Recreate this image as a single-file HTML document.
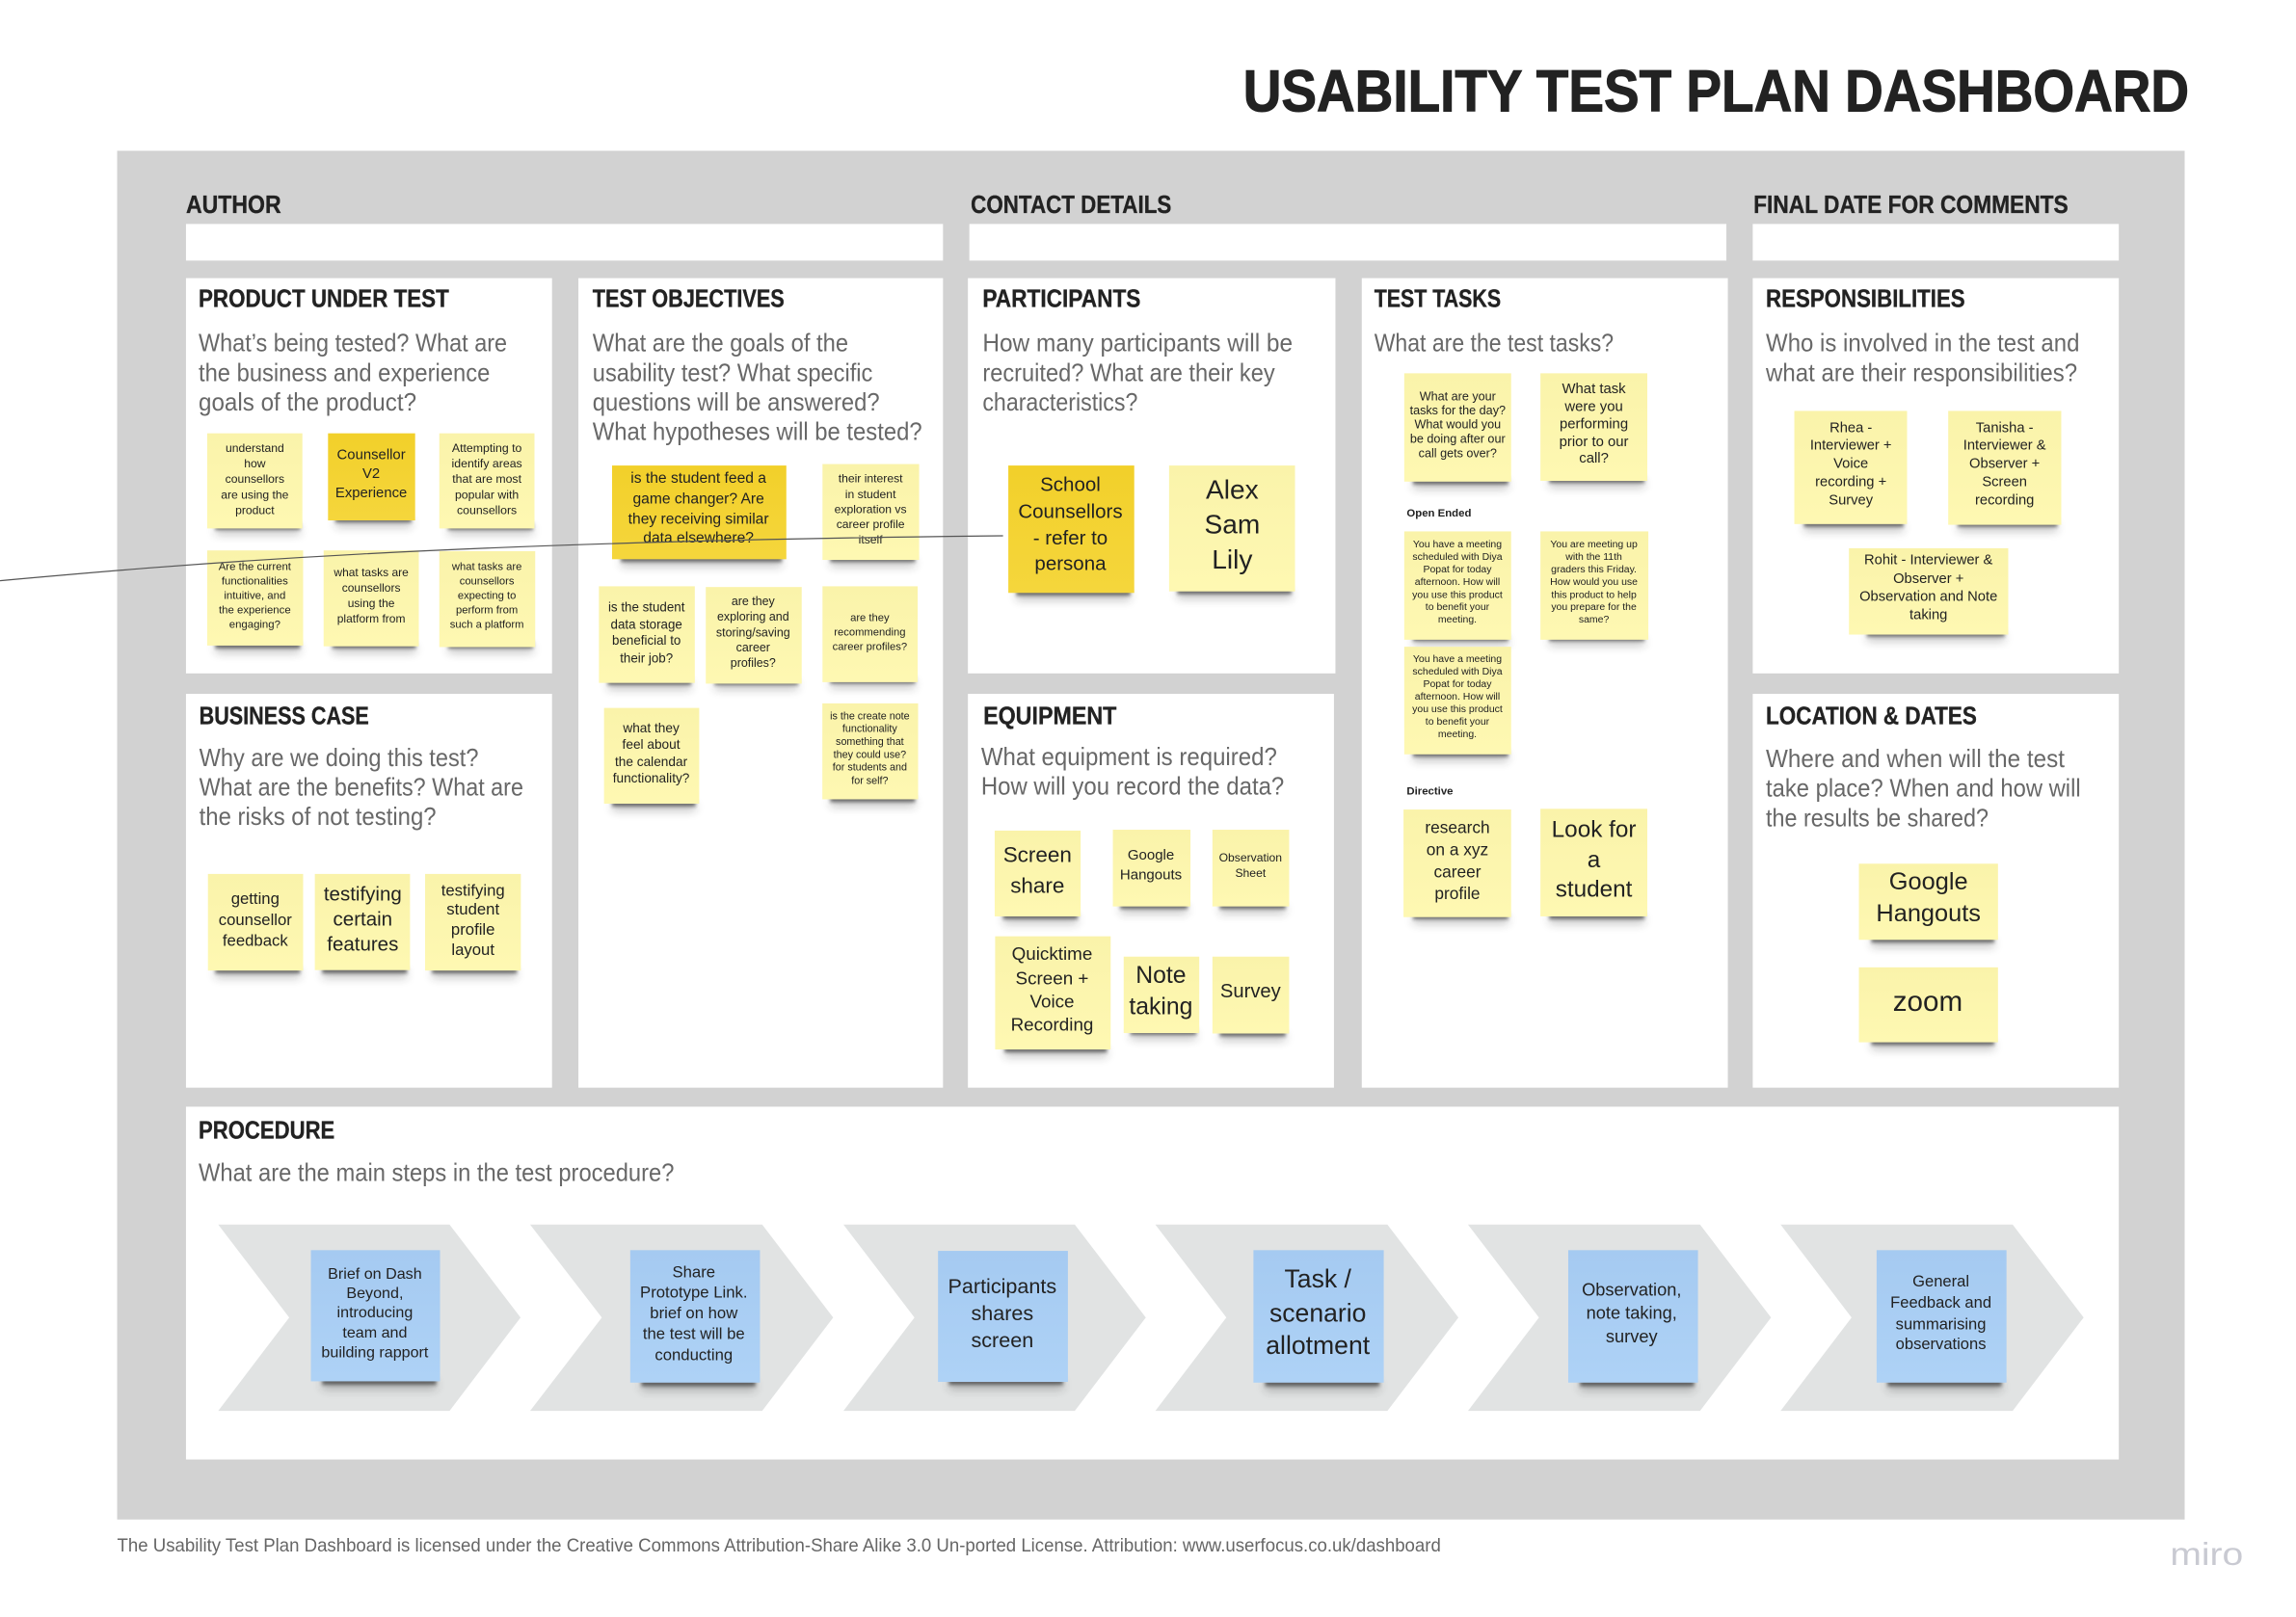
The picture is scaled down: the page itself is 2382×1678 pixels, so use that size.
<!DOCTYPE html>
<html lang="en"><head><meta charset="utf-8"><title>Usability Test Plan Dashboard</title>
<style>
html,body{margin:0;padding:0;background:#fff;width:2382px;height:1678px;overflow:hidden}
svg{display:block}
text{font-family:"Liberation Sans",sans-serif}
.h{font-weight:700;font-size:17px;fill:#222;stroke:#222;stroke-width:.22px}
.p{font-size:17px;fill:#686868}
.s text{text-anchor:middle;dominant-baseline:central;fill:#222}
.y{fill:url(#gy)}.d{fill:url(#gd)}.b{fill:url(#gb)}
</style></head><body>
<svg xmlns="http://www.w3.org/2000/svg" width="2382" height="1678" viewBox="0 0 1568 1104.6">
<defs>
<linearGradient id="gy" x1="0" y1="0" x2="0" y2="1"><stop offset="0" stop-color="#faf3aa"/><stop offset="1" stop-color="#fef8b2"/></linearGradient>
<linearGradient id="gd" x1="0" y1="0" x2="0" y2="1"><stop offset="0" stop-color="#f2d02a"/><stop offset="1" stop-color="#f5d63c"/></linearGradient>
<linearGradient id="gb" x1="0" y1="0" x2="0" y2="1"><stop offset="0" stop-color="#a5caf1"/><stop offset="1" stop-color="#aed2f6"/></linearGradient>
<filter id="bl" x="-5%" y="-5%" width="110%" height="110%"><feGaussianBlur stdDeviation="1.3"/></filter>
<filter id="bl2" x="-5%" y="-5%" width="110%" height="110%"><feGaussianBlur stdDeviation="3.2"/></filter>
<g id="sh">
<rect x="147" y="357" width="58" height="5"/><rect x="229" y="352" width="52" height="5"/><rect x="306" y="357" width="58" height="5"/>
<rect x="147" y="438" width="58" height="5"/><rect x="227" y="438" width="57" height="5"/><rect x="306" y="438" width="58" height="5"/>
<rect x="424" y="379" width="110" height="5"/><rect x="567" y="379" width="58" height="5"/><rect x="415" y="463" width="57" height="5"/><rect x="488" y="463" width="57" height="5"/><rect x="567" y="462" width="58" height="5"/><rect x="418" y="546" width="57" height="5"/><rect x="567" y="543" width="58" height="5"/>
<rect x="147" y="660" width="58" height="5"/><rect x="220" y="660" width="58" height="5"/><rect x="295" y="660" width="58" height="5"/>
<rect x="694" y="402" width="78" height="5"/><rect x="804" y="401" width="78" height="5"/>
<rect x="965" y="326" width="65" height="5"/><rect x="1058" y="325" width="65" height="5"/><rect x="965" y="433" width="65" height="5"/><rect x="1058" y="433" width="65" height="5"/><rect x="965" y="512" width="65" height="5"/><rect x="965" y="623" width="65" height="5"/><rect x="1058" y="623" width="65" height="5"/>
<rect x="685" y="623" width="51" height="5"/><rect x="765" y="616" width="46" height="5"/><rect x="833" y="616" width="45" height="5"/><rect x="686" y="714" width="70" height="5"/><rect x="772" y="702" width="45" height="5"/><rect x="833" y="703" width="45" height="5"/>
<rect x="1232" y="355" width="68" height="5"/><rect x="1337" y="355" width="68" height="5"/><rect x="1275" y="430" width="94" height="5"/><rect x="1278" y="639" width="84" height="5"/><rect x="1278" y="709" width="84" height="5"/>
<rect x="220" y="940" width="78" height="6"/><rect x="438" y="941" width="78" height="6"/><rect x="648" y="940" width="78" height="6"/><rect x="864" y="941" width="78" height="6"/><rect x="1079" y="941" width="78" height="6"/><rect x="1289" y="941" width="78" height="6"/>
</g>
</defs>
<rect width="1568" height="1104.6" fill="#fff"/>
<text x="849" y="76" font-size="40" font-weight="700" fill="#222" stroke="#222" stroke-width=".7" textLength="646" lengthAdjust="spacingAndGlyphs">USABILITY TEST PLAN DASHBOARD</text>
<rect x="80" y="103" width="1412" height="935" fill="#d2d2d2"/>
<g fill="#fff">
<rect x="127" y="153" width="517" height="25"/><rect x="662" y="153" width="517" height="25"/><rect x="1197" y="153" width="250" height="25"/>
<rect x="127" y="190" width="250" height="270"/><rect x="395" y="190" width="249" height="553"/><rect x="661" y="190" width="251" height="270"/><rect x="930" y="190" width="250" height="553"/><rect x="1197" y="190" width="250" height="270"/>
<rect x="127" y="474" width="250" height="269"/><rect x="661" y="474" width="250" height="269"/><rect x="1197" y="474" width="250" height="269"/>
<rect x="127" y="756" width="1320" height="241"/>
</g>
<g class="h">
<text x="127" y="145.6" textLength="65" lengthAdjust="spacingAndGlyphs">AUTHOR</text>
<text x="663" y="145.6" textLength="137" lengthAdjust="spacingAndGlyphs">CONTACT DETAILS</text>
<text x="1197.5" y="145.6" textLength="215" lengthAdjust="spacingAndGlyphs">FINAL DATE FOR COMMENTS</text>
<text x="135.6" y="209.8" textLength="171" lengthAdjust="spacingAndGlyphs">PRODUCT UNDER TEST</text>
<text x="404.7" y="209.8" textLength="131" lengthAdjust="spacingAndGlyphs">TEST OBJECTIVES</text>
<text x="671" y="209.8" textLength="108" lengthAdjust="spacingAndGlyphs">PARTICIPANTS</text>
<text x="938.5" y="209.8" textLength="86.5" lengthAdjust="spacingAndGlyphs">TEST TASKS</text>
<text x="1206" y="209.8" textLength="136" lengthAdjust="spacingAndGlyphs">RESPONSIBILITIES</text>
<text x="136" y="494.8" textLength="116" lengthAdjust="spacingAndGlyphs">BUSINESS CASE</text>
<text x="671.5" y="494.8" textLength="91" lengthAdjust="spacingAndGlyphs">EQUIPMENT</text>
<text x="1206" y="494.8" textLength="144" lengthAdjust="spacingAndGlyphs">LOCATION &amp; DATES</text>
<text x="135.6" y="777.8" textLength="93" lengthAdjust="spacingAndGlyphs">PROCEDURE</text>
</g>
<g class="p">
<text x="135.6" y="240" textLength="210.7" lengthAdjust="spacingAndGlyphs">What’s being tested? What are</text>
<text x="135.6" y="260.2" textLength="199" lengthAdjust="spacingAndGlyphs">the business and experience</text>
<text x="135.6" y="280.4" textLength="148.8" lengthAdjust="spacingAndGlyphs">goals of the product?</text>
<text x="404.7" y="240" textLength="174.6" lengthAdjust="spacingAndGlyphs">What are the goals of the</text>
<text x="404.7" y="260.2" textLength="191.3" lengthAdjust="spacingAndGlyphs">usability test? What specific</text>
<text x="404.7" y="280.4" textLength="196.1" lengthAdjust="spacingAndGlyphs">questions will be answered?</text>
<text x="404.7" y="300.6" textLength="225" lengthAdjust="spacingAndGlyphs">What hypotheses will be tested?</text>
<text x="671" y="240" textLength="211.8" lengthAdjust="spacingAndGlyphs">How many participants will be</text>
<text x="671" y="260.2" textLength="199.7" lengthAdjust="spacingAndGlyphs">recruited? What are their key</text>
<text x="671" y="280.4" textLength="106" lengthAdjust="spacingAndGlyphs">characteristics?</text>
<text x="938.5" y="240" textLength="163.5" lengthAdjust="spacingAndGlyphs">What are the test tasks?</text>
<text x="1206" y="240" textLength="214.2" lengthAdjust="spacingAndGlyphs">Who is involved in the test and</text>
<text x="1206" y="260.5" textLength="212.7" lengthAdjust="spacingAndGlyphs">what are their responsibilities?</text>
<text x="136" y="523.4" textLength="190.8" lengthAdjust="spacingAndGlyphs">Why are we doing this test?</text>
<text x="136" y="543.4" textLength="221.4" lengthAdjust="spacingAndGlyphs">What are the benefits? What are</text>
<text x="136" y="563.4" textLength="161.9" lengthAdjust="spacingAndGlyphs">the risks of not testing?</text>
<text x="670" y="522.6" textLength="202.1" lengthAdjust="spacingAndGlyphs">What equipment is required?</text>
<text x="670" y="542.8" textLength="207" lengthAdjust="spacingAndGlyphs">How will you record the data?</text>
<text x="1206" y="524" textLength="204" lengthAdjust="spacingAndGlyphs">Where and when will the test</text>
<text x="1206" y="544.2" textLength="215" lengthAdjust="spacingAndGlyphs">take place? When and how will</text>
<text x="1206" y="564.4" textLength="152" lengthAdjust="spacingAndGlyphs">the results be shared?</text>
<text x="135.6" y="806.6" textLength="324.8" lengthAdjust="spacingAndGlyphs">What are the main steps in the test procedure?</text>
</g>
<g fill="#e1e3e3">
<polygon points="149,836.5 307,836.5 355.5,900 307,963.8 149,963.8 197.5,900"/>
<polygon points="362,836.5 520.5,836.5 569,900 520.5,963.8 362,963.8 411,900"/>
<polygon points="576,836.5 734,836.5 782.5,900 734,963.8 576,963.8 624.5,900"/>
<polygon points="789,836.5 947.5,836.5 996,900 947.5,963.8 789,963.8 837.5,900"/>
<polygon points="1002.5,836.5 1161,836.5 1209.5,900 1161,963.8 1002.5,963.8 1051,900"/>
<polygon points="1216,836.5 1374.5,836.5 1423,900 1374.5,963.8 1216,963.8 1264.5,900"/>
</g>
<use href="#sh" fill="#222" opacity=".28" filter="url(#bl2)" y="3"/>
<use href="#sh" fill="#222" opacity=".6" filter="url(#bl)"/>
<g class="s">
<g font-size="8"><rect class="y" x="141.5" y="296" width="65" height="65"/><text x="174" y="306">understand</text><text x="174" y="316.7">how</text><text x="174" y="327.3">counsellors</text><text x="174" y="337.9">are using the</text><text x="174" y="348.4">product</text></g>
<g font-size="9.8"><rect class="d" x="224" y="296" width="59.5" height="59.5"/><text x="253.5" y="311">Counsellor</text><text x="253.5" y="324">V2</text><text x="253.5" y="337">Experience</text></g>
<g font-size="8.1"><rect class="y" x="300" y="296" width="65" height="65"/><text x="332.5" y="306">Attempting to</text><text x="332.5" y="316.7">identify areas</text><text x="332.5" y="327.3">that are most</text><text x="332.5" y="337.9">popular with</text><text x="332.5" y="348.4">counsellors</text></g>
<g font-size="7.5"><rect class="y" x="141.5" y="376" width="65.5" height="65"/><text x="174" y="387.3">Are the current</text><text x="174" y="397.2">functionalities</text><text x="174" y="407">intuitive, and</text><text x="174" y="416.9">the experience</text><text x="174" y="426.8">engaging?</text></g>
<g font-size="7.9"><rect class="y" x="221" y="376" width="65" height="65.5"/><text x="253.5" y="391">what tasks are</text><text x="253.5" y="401.6">counsellors</text><text x="253.5" y="412">using the</text><text x="253.5" y="422.5">platform from</text></g>
<g font-size="7.4"><rect class="y" x="300" y="376.5" width="65.5" height="65.5"/><text x="332.5" y="387.3">what tasks are</text><text x="332.5" y="397.2">counsellors</text><text x="332.5" y="407">expecting to</text><text x="332.5" y="416.9">perform from</text><text x="332.5" y="426.8">such a platform</text></g>
<g font-size="10.3"><rect class="d" x="418" y="318" width="119" height="64"/><text x="477" y="327">is the student feed a</text><text x="477" y="341">game changer? Are</text><text x="477" y="354.8">they receiving similar</text><text x="477" y="367.8">data elsewhere?</text></g>
<g font-size="8"><rect class="y" x="561.7" y="317" width="66" height="65.5"/><text x="594.5" y="327">their interest</text><text x="594.5" y="337.7">in student</text><text x="594.5" y="347.8">exploration vs</text><text x="594.5" y="358">career profile</text><text x="594.5" y="368.5">itself</text></g>
<g font-size="8.8"><rect class="y" x="409" y="400.5" width="65.5" height="66"/><text x="441.5" y="414.6">is the student</text><text x="441.5" y="426.6">data storage</text><text x="441.5" y="437.4">beneficial to</text><text x="441.5" y="449.6">their job?</text></g>
<g font-size="8.2"><rect class="y" x="482" y="401" width="65.5" height="66"/><text x="514.3" y="410.8">are they</text><text x="514.3" y="421.4">exploring and</text><text x="514.3" y="432">storing/saving</text><text x="514.3" y="442.5">career</text><text x="514.3" y="453">profiles?</text></g>
<g font-size="7.4"><rect class="y" x="561.7" y="400.5" width="65" height="65.5"/><text x="594" y="422.3">are they</text><text x="594" y="432.2">recommending</text><text x="594" y="442">career profiles?</text></g>
<g font-size="9"><rect class="y" x="412.5" y="483.6" width="65" height="65.4"/><text x="444.7" y="497.4">what they</text><text x="444.7" y="508.6">feel about</text><text x="444.7" y="520.3">the calendar</text><text x="444.7" y="531.5">functionality?</text></g>
<g font-size="7.1"><rect class="y" x="561.6" y="480.5" width="65.4" height="65.5"/><text x="594" y="489.5">is the create note</text><text x="594" y="498">functionality</text><text x="594" y="507">something that</text><text x="594" y="515.7">they could use?</text><text x="594" y="524.4">for students and</text><text x="594" y="533.4">for self?</text></g>
<g font-size="11"><rect class="y" x="142" y="597" width="65" height="66"/><text x="174.3" y="614">getting</text><text x="174.3" y="628.2">counsellor</text><text x="174.3" y="642.5">feedback</text></g>
<g font-size="13.5"><rect class="y" x="215" y="597" width="65" height="65.7"/><text x="247.7" y="611">testifying</text><text x="247.7" y="628">certain</text><text x="247.7" y="645">features</text></g>
<g font-size="11"><rect class="y" x="290.3" y="597" width="65.4" height="66"/><text x="323" y="608.3">testifying</text><text x="323" y="621.2">student</text><text x="323" y="635">profile</text><text x="323" y="648.9">layout</text></g>
<g font-size="13.5"><rect class="d" x="688.6" y="318" width="86" height="87"/><text x="731" y="331">School</text><text x="731" y="349.7">Counsellors</text><text x="731" y="367.5">- refer to</text><text x="731" y="385.2">persona</text></g>
<g font-size="18.5"><rect class="y" x="798.4" y="318" width="86" height="86"/><text x="841.5" y="334.4">Alex</text><text x="841.5" y="358">Sam</text><text x="841.5" y="382">Lily</text></g>
<g font-size="8.3"><rect class="y" x="959" y="255" width="73" height="74"/><text x="995.5" y="271">What are your</text><text x="995.5" y="280.5">tasks for the day?</text><text x="995.5" y="290">What would you</text><text x="995.5" y="299.8">be doing after our</text><text x="995.5" y="309.7">call gets over?</text></g>
<g font-size="9.8"><rect class="y" x="1052" y="255" width="73" height="73.5"/><text x="1088.5" y="266">What task</text><text x="1088.5" y="278.2">were you</text><text x="1088.5" y="290">performing</text><text x="1088.5" y="302">prior to our</text><text x="1088.5" y="313.5">call?</text></g>
<g font-size="6.9"><rect class="y" x="959" y="363" width="73" height="74"/><text x="995.3" y="372.4">You have a meeting</text><text x="995.3" y="380.8">scheduled with Diya</text><text x="995.3" y="389.5">Popat for today</text><text x="995.3" y="398">afternoon. How will</text><text x="995.3" y="406.7">you use this product</text><text x="995.3" y="415">to benefit your</text><text x="995.3" y="423.6">meeting.</text></g>
<g font-size="6.9"><rect class="y" x="1052" y="363" width="73.7" height="74"/><text x="1088.5" y="372.4">You are meeting up</text><text x="1088.5" y="380.8">with the 11th</text><text x="1088.5" y="389.5">graders this Friday.</text><text x="1088.5" y="398">How would you use</text><text x="1088.5" y="406.7">this product to help</text><text x="1088.5" y="415">you prepare for the</text><text x="1088.5" y="423.6">same?</text></g>
<g font-size="6.9"><rect class="y" x="959" y="441.8" width="73" height="73.5"/><text x="995.3" y="450.6">You have a meeting</text><text x="995.3" y="459.1">scheduled with Diya</text><text x="995.3" y="467.7">Popat for today</text><text x="995.3" y="476.2">afternoon. How will</text><text x="995.3" y="484.9">you use this product</text><text x="995.3" y="493.5">to benefit your</text><text x="995.3" y="502.1">meeting.</text></g>
<g font-size="11.4"><rect class="y" x="958.5" y="553" width="73.5" height="73.5"/><text x="995.3" y="565">research</text><text x="995.3" y="580.4">on a xyz</text><text x="995.3" y="595.3">career</text><text x="995.3" y="610.2">profile</text></g>
<g font-size="16"><rect class="y" x="1052" y="552.5" width="73" height="73.5"/><text x="1088.5" y="566.8">Look for</text><text x="1088.5" y="587.4">a</text><text x="1088.5" y="607.6">student</text></g>
<g font-size="14.8"><rect class="y" x="679.3" y="567.4" width="58.7" height="58.6"/><text x="708.5" y="584">Screen</text><text x="708.5" y="604.8">share</text></g>
<g font-size="9.9"><rect class="y" x="760" y="566.8" width="53" height="52.4"/><text x="786" y="584.3">Google</text><text x="786" y="597.7">Hangouts</text></g>
<g font-size="8"><rect class="y" x="828" y="566.8" width="52.4" height="52.4"/><text x="854" y="585.9">Observation</text><text x="854" y="596.4">Sheet</text></g>
<g font-size="12.4"><rect class="y" x="679.6" y="639.6" width="78.9" height="77.3"/><text x="718.5" y="651.5">Quicktime</text><text x="718.5" y="668">Screen +</text><text x="718.5" y="683.8">Voice</text><text x="718.5" y="699.8">Recording</text></g>
<g font-size="16.3"><rect class="y" x="767.4" y="653.5" width="51.6" height="52.2"/><text x="792.8" y="666.4">Note</text><text x="792.8" y="688">taking</text></g>
<g font-size="13.3"><rect class="y" x="828" y="653.5" width="52.4" height="52.5"/><text x="854" y="677.4">Survey</text></g>
<g font-size="9.7"><rect class="y" x="1225.4" y="280.7" width="77" height="77.3"/><text x="1264" y="292.6">Rhea -</text><text x="1264" y="304.5">Interviewer +</text><text x="1264" y="316.8">Voice</text><text x="1264" y="329.4">recording +</text><text x="1264" y="342">Survey</text></g>
<g font-size="9.7"><rect class="y" x="1330.5" y="280.7" width="77.2" height="77.8"/><text x="1369" y="292.6">Tanisha -</text><text x="1369" y="304.5">Interviewer &amp;</text><text x="1369" y="316.8">Observer +</text><text x="1369" y="329.4">Screen</text><text x="1369" y="342">recording</text></g>
<g font-size="9.7"><rect class="y" x="1262.7" y="374.5" width="108.8" height="59"/><text x="1317" y="382.9">Rohit - Interviewer &amp;</text><text x="1317" y="395.5">Observer +</text><text x="1317" y="407.8">Observation and Note</text><text x="1317" y="420.4">taking</text></g>
<g font-size="16.7"><rect class="y" x="1269.5" y="590" width="95" height="52"/><text x="1317" y="602.3">Google</text><text x="1317" y="624">Hangouts</text></g>
<g font-size="19.5"><rect class="y" x="1269.5" y="660.8" width="95" height="51.2"/><text x="1316.5" y="684.3">zoom</text></g>
<g font-size="10.6"><rect class="b" x="212.3" y="854" width="88.2" height="89.6"/><text x="256" y="870.3">Brief on Dash</text><text x="256" y="883.3">Beyond,</text><text x="256" y="896.6">introducing</text><text x="256" y="910.5">team and</text><text x="256" y="923.9">building rapport</text></g>
<g font-size="11"><rect class="b" x="430.4" y="854" width="88.6" height="90.5"/><text x="473.8" y="868.8">Share</text><text x="473.8" y="882.6">Prototype Link.</text><text x="473.8" y="896.9">brief on how</text><text x="473.8" y="911">the test will be</text><text x="473.8" y="925.4">conducting</text></g>
<g font-size="14.2"><rect class="b" x="640.6" y="854.5" width="88.7" height="89.5"/><text x="684.5" y="878.4">Participants</text><text x="684.5" y="896.9">shares</text><text x="684.5" y="915.3">screen</text></g>
<g font-size="17.5"><rect class="b" x="856" y="854" width="89" height="90.5"/><text x="900" y="873.6">Task /</text><text x="900" y="896.9">scenario</text><text x="900" y="919">allotment</text></g>
<g font-size="12"><rect class="b" x="1071" y="854" width="88.6" height="90.5"/><text x="1114.3" y="881">Observation,</text><text x="1114.3" y="897">note taking,</text><text x="1114.3" y="913">survey</text></g>
<g font-size="10.9"><rect class="b" x="1281.6" y="854" width="88.7" height="90.5"/><text x="1325.5" y="875.1">General</text><text x="1325.5" y="889.6">Feedback and</text><text x="1325.5" y="904.5">summarising</text><text x="1325.5" y="918.1">observations</text></g>
</g>
<text x="960.7" y="353" font-size="7.5" font-weight="700" fill="#222">Open Ended</text>
<text x="960.7" y="542.6" font-size="7.5" font-weight="700" fill="#222">Directive</text>
<path d="M0 396.7 C 130 385, 300 370, 685 366" fill="none" stroke="#555" stroke-width=".8"/>
<text x="80" y="1060" font-size="12.5" fill="#666" textLength="904" lengthAdjust="spacingAndGlyphs">The Usability Test Plan Dashboard is licensed under the Creative Commons Attribution-Share Alike 3.0 Un-ported License. Attribution: www.userfocus.co.uk/dashboard</text>
<text x="1482" y="1069" font-size="22" fill="#c9cad2" textLength="50" lengthAdjust="spacingAndGlyphs">miro</text>
</svg>
</body></html>
